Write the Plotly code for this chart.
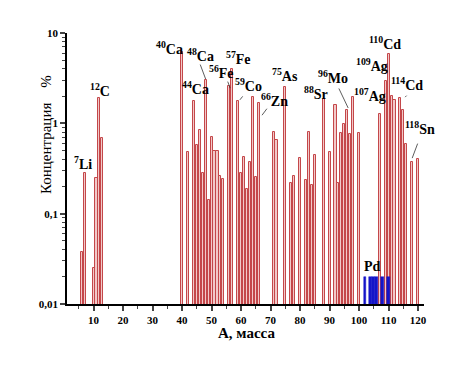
import plotly.graph_objects as go

# ---- data ----
mass = [6, 7, 10, 11, 12, 13,
        40, 42, 44, 45, 46, 47, 48, 49, 50, 51, 52, 53, 54, 56, 57,
        59, 60, 61, 62, 63, 64, 65, 66, 71, 72, 75, 77, 78, 80, 82, 83, 84, 85,
        88, 90, 92, 93, 94, 95, 96, 97, 98, 100,
        107, 109, 110, 111, 112, 114, 115, 116, 118, 120]
conc = [0.038, 0.28, 0.025, 0.25, 1.89, 0.68,
        6.1, 0.48, 1.78, 0.57, 0.85, 0.28, 3.0, 0.14, 0.70, 0.49, 0.50, 0.26, 0.24, 2.6, 4.0,
        1.78, 0.28, 0.42, 0.186, 0.37, 1.97, 0.256, 1.66, 0.81, 0.65, 2.5, 0.22, 0.26, 0.41, 0.235, 0.81, 0.21, 0.45,
        1.84, 0.48, 1.6, 0.22, 0.79, 0.98, 1.4, 0.77, 1.97, 0.79,
        1.27, 2.94, 5.85, 2.02, 1.81, 1.89, 1.4, 0.59, 0.376, 0.40]

pd_mass = [102, 104, 105, 106, 108, 110]
pd_conc = [0.02, 0.02, 0.02, 0.02, 0.02, 0.02]

x_ticks = [10, 20, 30, 40, 50, 60, 70, 80, 90, 100, 110, 120]
y_ticks = [0.01, 0.1, 1, 10]
y_ticktext = ["0,01", "0,1", "1", "10"]

# labels: (text, x, log10 y)
labels = [
    ("<sup>7</sup>Li", 6.4, -0.44),
    ("<sup>12</sup>C", 12.2, 0.37),
    ("<sup>40</sup>Ca", 35.9, 0.83),
    ("<sup>48</sup>Ca", 46.1, 0.76),
    ("<sup>44</sup>Ca", 44.7, 0.39),
    ("<sup>56</sup>Fe", 53.2, 0.57),
    ("<sup>57</sup>Fe", 59.0, 0.72),
    ("<sup>59</sup>Co", 62.5, 0.42),
    ("<sup>66</sup>Zn", 71.4, 0.26),
    ("<sup>75</sup>As", 74.9, 0.53),
    ("<sup>88</sup>Sr", 85.4, 0.335),
    ("<sup>96</sup>Mo", 91.2, 0.51),
    ("<sup>107</sup>Ag", 103.7, 0.31),
    ("<sup>109</sup>Ag", 104.4, 0.65),
    ("<sup>110</sup>Cd", 108.8, 0.89),
    ("<sup>114</sup>Cd", 116.3, 0.435),
    ("<sup>118</sup>Sn", 120.7, -0.05),
    ("Pd", 104.4, -1.58),
]
# leader lines: (x, log10 y of bar end, ax, ay pixel offsets)
leaders = [
    (48.0, 0.49, -6, -16),
    (56.3, 0.39, -3, -8),
    (59.6, 0.26, 4, -5),
    (67.1, 0.09, 6, -8),
    (96.3, 0.17, -10, -21),
    (115.6, 0.29, 3, -3),
    (118.0, -0.385, 6, -16),
]

RED = "#c4474a"
FONT = "Liberation Serif, Times New Roman, DejaVu Serif, serif"

fig = go.Figure()
fig.add_trace(go.Bar(x=mass, y=conc, width=0.7,
                     marker=dict(color="#f2c9c9", line=dict(color=RED, width=1))))
fig.add_trace(go.Bar(x=pd_mass, y=pd_conc, width=[0.6, 1.02, 1.02, 1.02, 0.85, 0.9],
                     marker=dict(color="#1414c8", line=dict(color="#1414c8", width=0.5))))

for t, x, y in labels:
    fig.add_annotation(x=x, y=y, xref="x", yref="y", text="<b>" + t + "</b>",
                       showarrow=False, font=dict(family=FONT, size=14, color="black"))
for x, y, ax, ay in leaders:
    fig.add_annotation(x=x, y=y, xref="x", yref="y", text="", showarrow=True,
                       arrowhead=0, arrowwidth=0.8, arrowcolor="#333", ax=ax, ay=ay,
                       standoff=0, startstandoff=0)

fig.add_annotation(x=-0.087, y=0.627, xref="paper", yref="paper",
                   text="Концентрация    %", textangle=-90, showarrow=False,
                   font=dict(family=FONT, size=15, color="black"))
fig.add_annotation(x=0.504, y=-0.144, xref="paper", yref="paper",
                   text="<b>A, масса</b>", showarrow=False,
                   font=dict(family=FONT, size=15, color="black"))

fig.update_layout(
    width=452, height=372,
    margin=dict(l=59, r=36, t=25, b=76),
    paper_bgcolor="white", plot_bgcolor="white",
    showlegend=False, barmode="overlay", bargap=0,
    font=dict(family=FONT, color="black"),
)
fig.update_xaxes(range=[1, 122], tickvals=x_ticks, ticks="outside", ticklen=5,
                 tickwidth=1.5, showline=True, linecolor="black", linewidth=1.5,
                 showgrid=False, zeroline=False,
                 tickfont=dict(family=FONT, size=11, color="black", weight="bold"),
                 minor=dict(dtick=5, tick0=0, ticks="outside", ticklen=3, tickwidth=1, showgrid=False))
fig.update_yaxes(type="log", range=[-2, 1], tickvals=y_ticks, ticktext=y_ticktext,
                 ticks="outside", ticklen=5, tickwidth=1.5, showline=True,
                 linecolor="black", linewidth=1.5, showgrid=False, zeroline=False,
                 tickfont=dict(family=FONT, size=11, color="black", weight="bold"),
                 minor=dict(dtick="D1", ticks="outside", ticklen=3, tickwidth=1, showgrid=False))

fig.write_html("out.html")
